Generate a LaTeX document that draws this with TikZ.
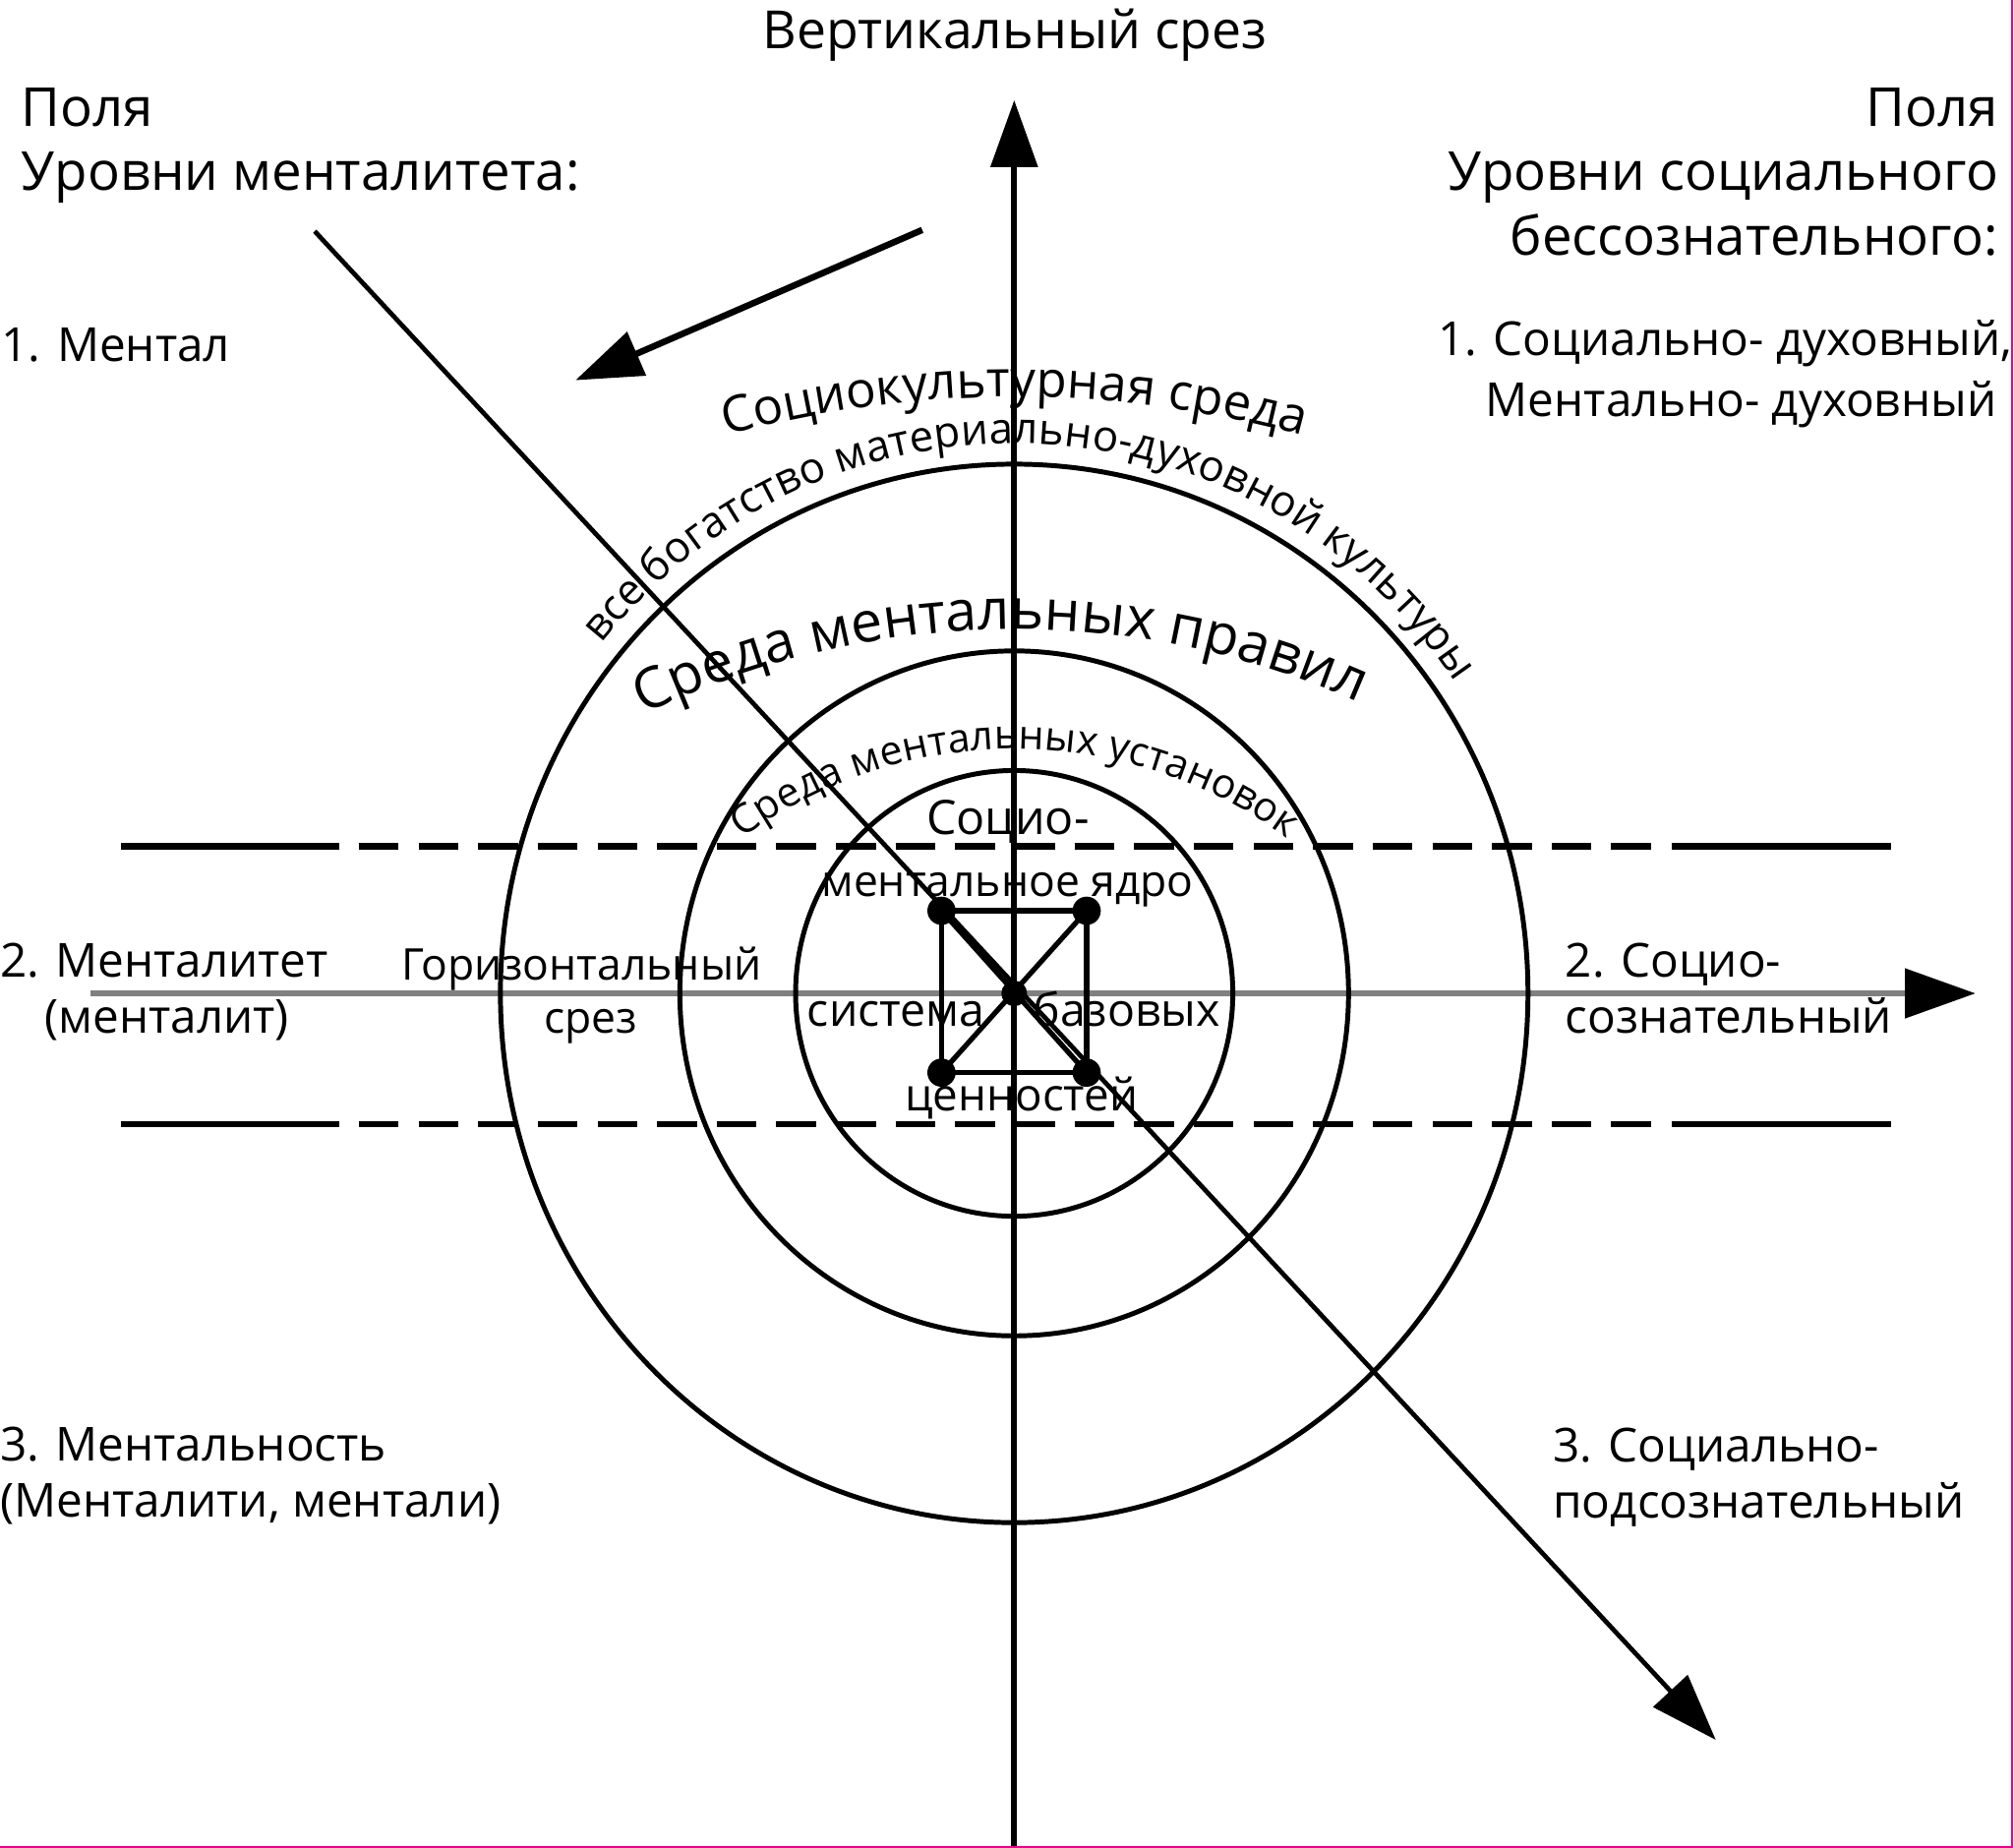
\documentclass[tikz,border=0pt]{standalone}
\usepackage{fontspec}
\setmainfont{Open Sans}
\usetikzlibrary{arrows.meta,decorations.text}
\tikzset{
  hdr/.style={font=\fontsize{41.8}{50}\selectfont, inner sep=0pt},
  lvl/.style={font=\fontsize{36.5}{44}\selectfont, inner sep=0pt},
  lbl/.style={font=\fontsize{34}{41}\selectfont, inner sep=0pt},
  ring/.style={line width=3.8pt},
  axisline/.style={line width=4.5pt},
  bigarrow/.style={-{Triangle[length=52pt,width=36pt]}},
  dashline/.style={line width=5pt},
  sqline/.style={line width=4pt},
  arctext/.style={decorate, decoration={text along path, text align=center, text={#1}}}
}
\begin{document}
\begin{tikzpicture}[x=1pt,y=1pt]
\fill[white] (0,0) rectangle (1568,-1438.6);
\useasboundingbox (0,0) rectangle (1568,-1438.6);
\coordinate (C) at (789.6,-773.3);

% horizontal axis (gray, black tip)
\coordinate (hL) at (70.3,-773.3);
\coordinate (hR) at (1538,-773.3);
\draw[line width=4.6pt, gray, -{Triangle[length=55pt,width=38pt,color=black]}] (hL) -- (hR);

% dashed lines
\coordinate (a1) at (94,-659);   \coordinate (a2) at (264,-659);
\coordinate (a3) at (279.4,-659); \coordinate (a4) at (1286.4,-659);
\coordinate (a5) at (1301.4,-659); \coordinate (a6) at (1472,-659);
\coordinate (b1) at (94,-875);   \coordinate (b2) at (264,-875);
\coordinate (b3) at (279.4,-875); \coordinate (b4) at (1286.4,-875);
\coordinate (b5) at (1301.4,-875); \coordinate (b6) at (1472,-875);
\draw[dashline] (a1) -- (a2) (a5) -- (a6) (b1) -- (b2) (b5) -- (b6);
\draw[dashline, dash pattern=on 31pt off 15.43pt] (a3) -- (a4) (b3) -- (b4);

% rings
\draw[ring] (C) ellipse [x radius=400, y radius=412];
\draw[ring] (C) ellipse [x radius=260.3, y radius=266.6];
\draw[ring] (C) ellipse [x radius=170.2, y radius=173.5];

% vertical axis
\coordinate (vB) at (789.6,-1438.6);
\coordinate (vT) at (789.6,-78);
\draw[axisline, bigarrow] (vB) -- (vT);

% long diagonal
\coordinate (dS) at (245,-180);
\coordinate (dE) at (1335.8,-1354.4);
\draw[line width=3.6pt, bigarrow] (dS) -- (dE);

% short arrow
\coordinate (sS) at (718,-179);
\coordinate (sE) at (448,-296);
\draw[line width=5pt, bigarrow] (sS) -- (sE);

% core square
\coordinate (q1) at (733,-709);
\coordinate (q2) at (846,-709);
\coordinate (q3) at (846,-835);
\coordinate (q4) at (733,-835);
\draw[sqline] (q1) -- (q2) -- (q3) -- (q4) -- cycle;
\draw[sqline] (q1) -- (q3) (q2) -- (q4);
\foreach \p in {q1,q2,q3,q4} \fill (\p) circle[radius=11];
\fill (C) circle[radius=10];

% curved texts
\path[arctext={|\fontsize{39}{47}\selectfont|Социокультурная среда}]
  ([shift={(789.6,-1159)}]112:850) arc[start angle=112, end angle=68, radius=850];
\path[arctext={|\fontsize{33.5}{40}\selectfont|все богатство материально-духовной культуры}]
  ([shift={(789.6,-773.3)}]150:416 and 428) arc[start angle=150, end angle=25, x radius=416, y radius=428];
\path[arctext={|\fontsize{44}{52}\selectfont|Среда ментальных правил}]
  ([shift={(790,-1151)}]124:661) arc[start angle=124, end angle=58, radius=661];
\path[arctext={|\fontsize{31.5}{38}\selectfont|Среда ментальных установок}]
  ([shift={(790,-941.5)}]140:358.5) arc[start angle=140, end angle=40, radius=358.5];

% labels
\node[lbl, font=\fontsize{41}{49}\selectfont, anchor=base] (vlab) at (790,-38) {Вертикальный срез};
\node[hdr, anchor=base west] (lpol) at (16.5,-98) {Поля};
\node[hdr, anchor=base west] (llev) at (16.5,-148) {Уровни менталитета:};
\node[lvl, anchor=base west] (l1) at (1,-281) {1. Ментал};
\node[lvl, anchor=base west] (l2) at (0,-760.5) {2. Менталитет};
\node[lvl, anchor=base west] (l2b) at (34.5,-804) {(менталит)};
\node[lvl, anchor=base west] (l3) at (0,-1137) {3. Ментальность};
\node[lvl, anchor=base west] (l3b) at (0,-1181) {(Менталити, ментали)};
\node[hdr, anchor=base east] (rpol) at (1556,-98) {Поля};
\node[hdr, anchor=base east] (rlev) at (1556,-148) {Уровни социального};
\node[hdr, anchor=base east] (rlev2) at (1556,-199) {бессознательного:};
\node[lvl, anchor=base east] (r1) at (1567,-277) {1. Социально- духовный,};
\node[lvl, anchor=base east] (r1b) at (1554.5,-324) {Ментально- духовный};
\node[lvl, anchor=base west] (r2) at (1218.5,-760.5) {2. Социо-};
\node[lvl, anchor=base west] (r2b) at (1218.5,-804) {сознательный};
\node[lvl, anchor=base west] (r3) at (1209,-1138) {3. Социально-};
\node[lvl, anchor=base west] (r3b) at (1209,-1182) {подсознательный};
\node[lbl, anchor=base] (hz1) at (452.7,-763) {Горизонтальный};
\node[lbl, anchor=base] (hz2) at (460,-804) {срез};
\node[lbl, font=\fontsize{37}{44}\selectfont, anchor=base] (c1) at (784.7,-649.5) {Социо-};
\node[lbl, anchor=base] (c2) at (784.4,-698) {ментальное ядро};
\node[lbl, font=\fontsize{35.5}{43}\selectfont, anchor=base east] (c3) at (767,-799) {система};
\node[lbl, font=\fontsize{35.5}{43}\selectfont, anchor=base west] (c4) at (804,-799) {базовых};
\node[lbl, font=\fontsize{35}{42}\selectfont, anchor=base] (c5) at (795.4,-865) {ценностей};

% thin border seen at bottom and right edge
\draw[magenta, line width=1.5pt] (0,-1437.8) -- (1566.8,-1437.8) -- (1566.8,0);
\end{tikzpicture}
\end{document}
